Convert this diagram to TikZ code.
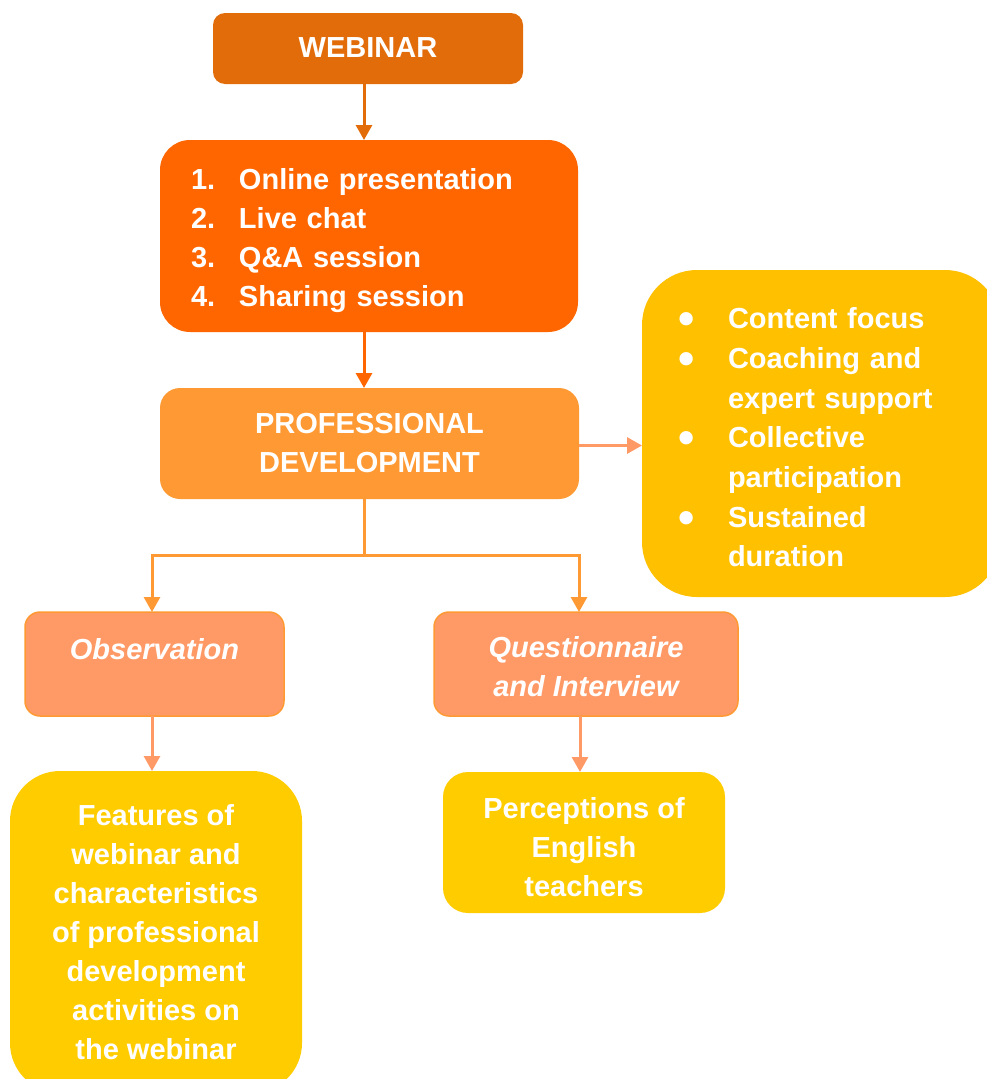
\documentclass[tikz,border=0pt]{standalone}
\usepackage{fontspec}
\setmainfont{Liberation Sans}
\usetikzlibrary{arrows.meta,calc}
\definecolor{cWeb}{HTML}{E36C0A}
\definecolor{cList}{HTML}{FF6600}
\definecolor{cPD}{HTML}{FF9933}
\definecolor{cSal}{HTML}{FF9966}
\definecolor{cGold}{HTML}{FFC000}
\definecolor{cYel}{HTML}{FFCC00}
\newcommand\mybul{\makebox[49pt][l]{\hspace{-1pt}\raisebox{-6pt}{\scalebox{1.6}{•}}}}
\begin{document}
\begin{tikzpicture}[x=1pt,y=-1pt,
  shapebox/.style={inner sep=0pt, outer sep=0pt},
  txt/.style={inner sep=0pt, outer sep=0pt, text=white,
    font=\fontsize{29}{39}\selectfont\bfseries, align=center},
  ittxt/.style={txt, font=\fontsize{29}{39}\selectfont\bfseries\itshape},
  arr/.style={line width=3pt, -{Triangle[width=16pt,length=15pt]}},
  conn/.style={line width=3pt}
]
\path[use as bounding box] (0,0) rectangle (987,1079);
\clip (0,0) rectangle (987,1079);

% boxes
\node[shapebox, fill=cWeb, rounded corners=12pt, minimum width=310pt, minimum height=71pt] (web) at (368,48.5) {};
\node[shapebox, fill=cList, rounded corners=30pt, minimum width=418pt, minimum height=192pt] (lst) at (369,236) {};
\node[shapebox, fill=cPD, rounded corners=20pt, minimum width=419pt, minimum height=111pt] (pd) at (369.5,443.5) {};
\node[shapebox, fill=cGold, rounded corners=55pt, minimum width=358pt, minimum height=327pt] (rt) at (821,433.5) {};
\node[shapebox, fill=cSal, draw=cPD, line width=1.5pt, rounded corners=15pt, minimum width=259pt, minimum height=104pt] (obs) at (154.5,664) {};
\node[shapebox, fill=cSal, draw=cPD, line width=1.5pt, rounded corners=15pt, minimum width=304pt, minimum height=104pt] (qi) at (586,664) {};
\node[shapebox, fill=cYel, rounded corners=50pt, minimum width=292pt, minimum height=322pt] (fe) at (156,932) {};
\node[shapebox, fill=cYel, rounded corners=25pt, minimum width=282pt, minimum height=141pt] (pc) at (584,842.5) {};

% texts
\node[txt] (webT) at ([yshift=1pt]web.center) {WEBINAR};
\node[txt, text width=356pt, align=left] (lstT) at ([yshift=-5pt]lst.center)
  {\makebox[48pt][l]{1.}Online presentation\\
   \makebox[48pt][l]{2.}Live chat\\
   \makebox[48pt][l]{3.}Q\&A session\\
   \makebox[48pt][l]{4.}Sharing session};
\node[txt] (pdT) at (pd.center) {PROFESSIONAL\\DEVELOPMENT};
\node[txt, text width=284pt, align=left, font=\fontsize{29}{39.7}\selectfont\bfseries] (rtT) at ([yshift=-4pt]rt.center)
  {\mybul Content focus\\
   \mybul Coaching and\\
   \hspace*{49pt}expert support\\
   \mybul Collective\\
   \hspace*{49pt}participation\\
   \mybul Sustained\\
   \hspace*{49pt}duration};
\node[ittxt] (obsT) at ([yshift=-4pt]obs.center) {Observation\\\mbox{}};
\node[ittxt] (qiT) at ([yshift=-3pt]qi.center) {Questionnaire\\and Interview};
\node[txt] (feT) at (fe.center)
  {Features of\\webinar and\\characteristics\\of professional\\development\\activities on\\the webinar};
\node[txt] (pcT) at ([yshift=-5pt]pc.center) {Perceptions of\\English\\teachers};

% connectors
\draw[arr, cWeb] ([xshift=-4pt]web.south) -- ([xshift=-4pt]web.south |- lst.north);
\draw[arr, cList] ([xshift=-5pt]lst.south) -- ([xshift=-5pt]lst.south |- pd.north);
\draw[arr, cSal] ([yshift=-2pt]pd.east) -- ([yshift=-2pt]pd.east -| rt.west);

\coordinate (hub) at (364,555);
\draw[conn, cPD] (hub |- pd.south) -- (hub);
\draw[arr, cPD] (hub) -| ([xshift=-2.5pt]obs.north);
\draw[arr, cPD] (hub) -| ([xshift=-7pt]qi.north);

\draw[arr, cSal] ([xshift=-2.5pt]obs.south) -- ([xshift=-4pt]fe.north);
\draw[arr, cSal] ([xshift=-6pt]qi.south) -- ([xshift=-4pt]pc.north);
\end{tikzpicture}
\end{document}
